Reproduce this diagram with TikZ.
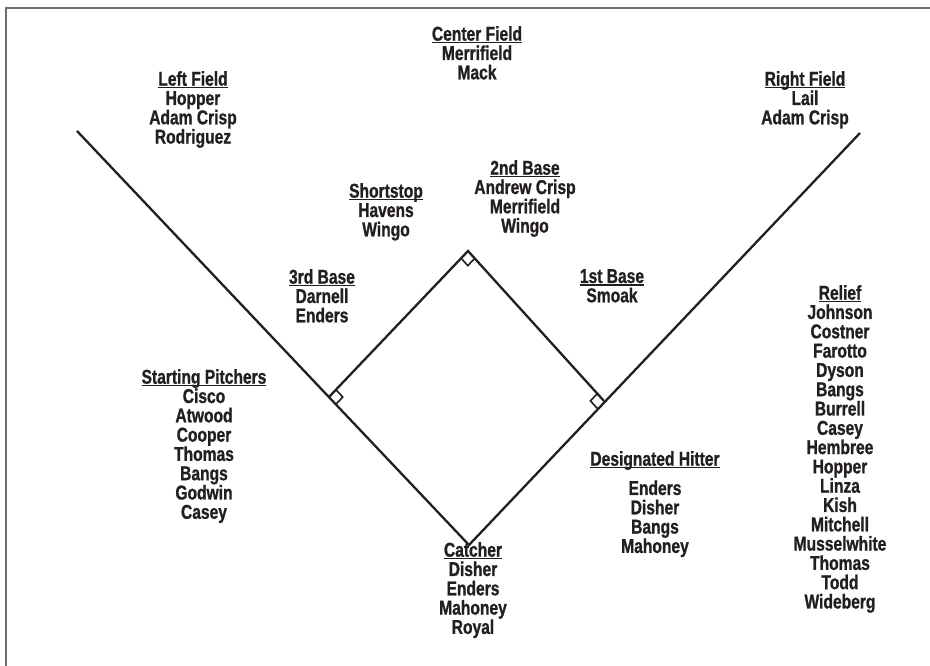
\documentclass[tikz,border=0pt]{standalone}
\usepackage{fontspec}
\usetikzlibrary{calc}
\newfontfamily\fieldfont{Liberation Sans}[FakeStretch=0.78,BoldFeatures={FakeBold=1}]
\definecolor{ink}{RGB}{35,31,32}
\definecolor{frame}{RGB}{110,110,110}
\newsavebox{\hdbox}
\newcommand{\hd}[1]{\sbox{\hdbox}{#1}\rlap{\rule[-2.6pt]{\wd\hdbox}{1.2pt}}\usebox{\hdbox}}

\begin{document}
\begin{tikzpicture}[x=1pt,y=-1pt,
  roster/.style={font=\fieldfont\bfseries\fontsize{20}{19.3}\selectfont,
    align=center,inner sep=0pt,text=ink,anchor=north},
  foul/.style={line width=2.3pt,draw=ink},
  cornermark/.style={line width=1.6pt,draw=ink}]
\useasboundingbox (0,0) rectangle (930,666);
\draw[frame,line width=1.2pt] (6,666) -- (6,8) -- (930,8);
% field
\coordinate (home) at (469,545);
\coordinate (first) at (604,401);
\coordinate (second) at (468,251);
\coordinate (third) at (329,397);
\coordinate (lpole) at (77,131);
\coordinate (rpole) at (860,133);
\draw[foul] (lpole) -- (home) -- (rpole);
\draw[foul] (third) -- (second) -- (first);
\foreach \c/\a/\b in {second/third/first,third/home/second,first/second/home}
  \draw[cornermark] ($(\c)!10pt!(\a)$) -- ($(\c)!10pt!(\a)+(\c)!10pt!(\b)-(\c)$) -- ($(\c)!10pt!(\b)$);
% positions
\node[roster] (cf) at (477,26) {\hd{Center Field}\\Merrifield\\Mack};
\node[roster] (lf) at (193,71) {\hd{Left Field}\\Hopper\\Adam Crisp\\Rodriguez};
\node[roster] (rf) at (805,71) {\hd{Right Field}\\Lail\\Adam Crisp};
\node[roster] (ss) at (386,183) {\hd{Shortstop}\\Havens\\Wingo};
\node[roster] (sb) at (525,160) {\hd{2nd Base}\\Andrew Crisp\\Merrifield\\Wingo};
\node[roster] (tb) at (322,269) {\hd{3rd Base}\\Darnell\\Enders};
\node[roster] (fb) at (612,269) {\hd{1st Base}\\Smoak};
\node[roster] (sp) at (204,369) {\hd{Starting Pitchers}\\Cisco\\Atwood\\Cooper\\Thomas\\Bangs\\Godwin\\Casey};
\node[roster] (rp) at (840,285) {\hd{Relief}\\Johnson\\Costner\\Farotto\\Dyson\\Bangs\\Burrell\\Casey\\Hembree\\Hopper\\Linza\\Kish\\Mitchell\\Musselwhite\\Thomas\\Todd\\Wideberg};
\node[roster] (dh) at (655,451) {\hd{Designated Hitter}\\[10pt]Enders\\Disher\\Bangs\\Mahoney};
\node[roster] (ca) at (473,542) {\hd{Catcher}\\Disher\\Enders\\Mahoney\\Royal};
\end{tikzpicture}
\end{document}
